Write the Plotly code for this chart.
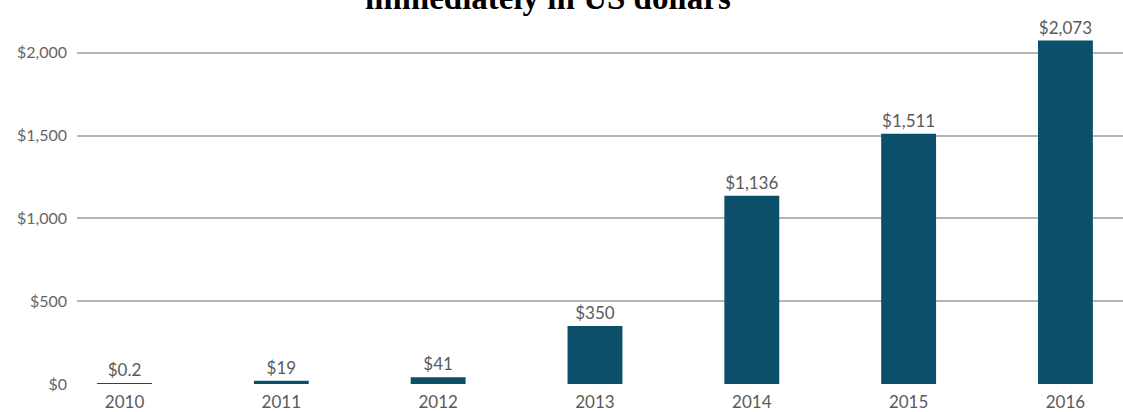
import plotly.graph_objects as go

years = ["2010", "2011", "2012", "2013", "2014", "2015", "2016"]
values = [0.2, 19, 41, 350, 1136, 1511, 2073]
value_labels = ["$0.2", "$19", "$41", "$350", "$1,136", "$1,511", "$2,073"]
y_ticks = [0, 500, 1000, 1500, 2000]
y_tick_labels = ["$0", "$500", "$1,000", "$1,500", "$2,000"]

BAR = "#0b4f6b"
GRID = "#b5b5b5"
TEXT = "#5a5a5a"

fig = go.Figure(
    go.Bar(
        x=years,
        y=values,
        text=value_labels,
        textposition="outside",
        cliponaxis=False,
        textfont=dict(family="Lato", size=17, color=TEXT),
        marker=dict(color=BAR, line=dict(width=0)),
        width=0.35,
    )
)

fig.add_annotation(
    text="<b>immediately in US dollars</b>",
    xref="paper", yref="paper",
    x=0.45, y=1.0, xanchor="center", yanchor="bottom",
    yshift=-18,
    showarrow=False,
    font=dict(family="Liberation Serif", size=33, color="#000000"),
)

fig.update_layout(
    width=1123, height=412,
    margin=dict(l=77, r=0, t=0, b=28, autoexpand=False),
    paper_bgcolor="white", plot_bgcolor="white",
    showlegend=False,
)
fig.update_xaxes(
    type="category",
    range=[-0.303, 6.367],
    showgrid=False, showline=False, ticks="",
    automargin=False,
    ticklabelstandoff=6,
    tickfont=dict(family="Lato", size=17, color=TEXT),
)
fig.update_yaxes(
    range=[0, 2318],
    tickvals=y_ticks, ticktext=y_tick_labels,
    showgrid=True, gridcolor=GRID, gridwidth=1.5,
    zeroline=False, showline=False, ticks="",
    automargin=False,
    ticklabelstandoff=9,
    tickfont=dict(family="Lato", size=16, color="#666666"),
)

fig.write_html("out.html")
